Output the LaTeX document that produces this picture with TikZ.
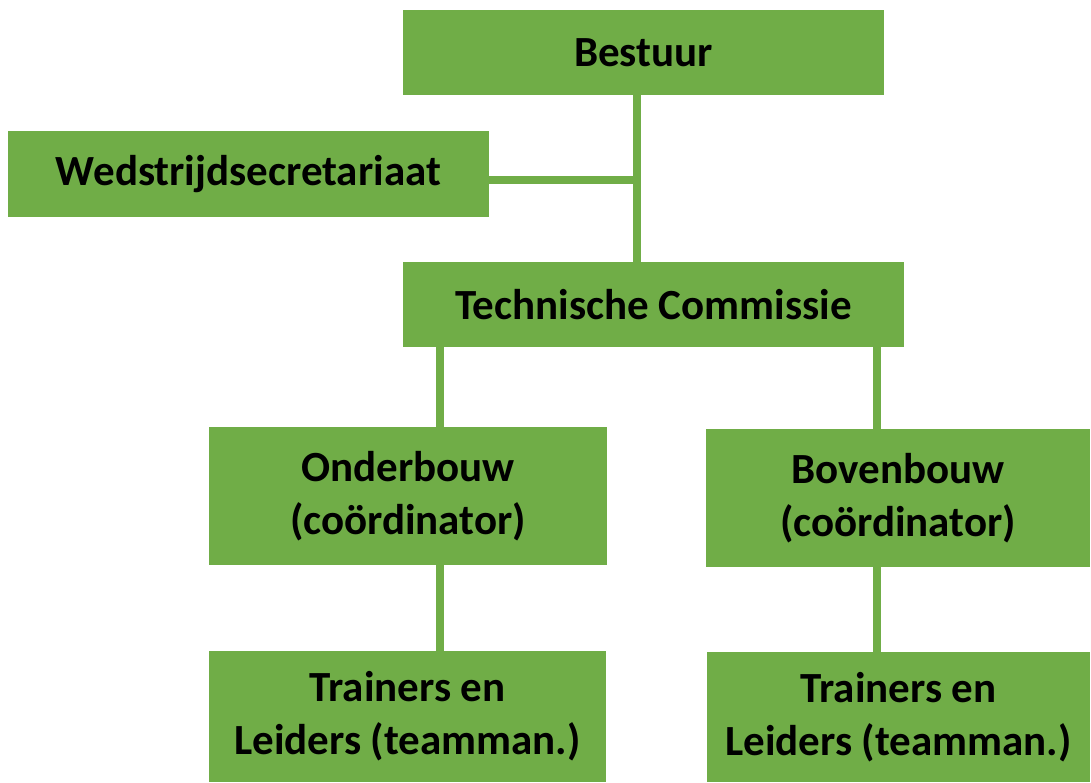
\documentclass[tikz,border=0pt]{standalone}
\usepackage{fontspec}
\setmainfont{Carlito}
\usetikzlibrary{positioning}
\definecolor{orggreen}{HTML}{70AD47}

\begin{document}
\begin{tikzpicture}[x=1pt,y=-1pt,line width=8pt,draw=orggreen]
  \tikzstyle{unit}=[rectangle,fill=orggreen,inner sep=0pt,outer sep=0pt,align=center,
                    font=\bfseries\fontsize{43}{53}\selectfont,text=black]
  \useasboundingbox (0,0) rectangle (1091,782);

  \node[unit,minimum width=481pt,minimum height=85pt]  (bestuur) at (643.5,52.5) {Bestuur};
  \node[unit,minimum width=481pt,minimum height=86pt]  (wedstr)  at (248.5,174)  {Wedstrijdsecretariaat};
  \node[unit,minimum width=501pt,minimum height=85pt]  (tc)      at (653.5,304.5) {Technische Commissie};
  \node[unit,minimum width=398pt,minimum height=138pt] (onder)   at (408,496)    {Onderbouw\\(coördinator)};
  \node[unit,minimum width=384pt,minimum height=138pt] (boven)   at (898,498)    {Bovenbouw\\(coördinator)};
  \node[unit,minimum width=397pt,minimum height=131pt] (trainL)  at (407.5,716.5) {Trainers en\\Leiders (teamman.)};
  \node[unit,minimum width=383pt,minimum height=130pt] (trainR)  at (898.5,717)  {Trainers en\\Leiders (teamman.)};

  \coordinate (junc)  at (637,180);
  \coordinate (leftx) at (440,0);
  \coordinate (rightx) at (877,0);

  \path[draw=orggreen]
        (bestuur.south -| junc)  edge (tc.north -| junc)
        (wedstr.east |- junc)    edge (junc)
        (tc.south -| leftx)      edge (onder.north -| leftx)
        (tc.south -| rightx)     edge (boven.north -| rightx)
        (onder.south -| leftx)   edge (trainL.north -| leftx)
        (boven.south -| rightx)  edge (trainR.north -| rightx);
\end{tikzpicture}
\end{document}
